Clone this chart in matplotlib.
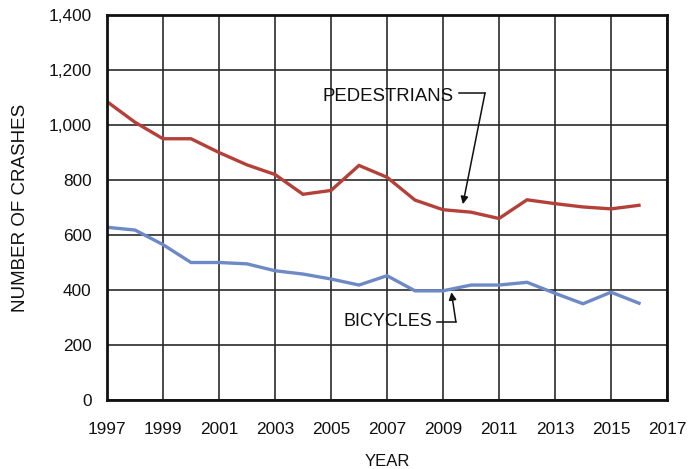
import matplotlib
matplotlib.use("Agg")
import matplotlib.pyplot as plt
from matplotlib.ticker import FuncFormatter

plt.rcParams['font.family'] = ['Liberation Sans', 'DejaVu Sans']

years = list(range(1997, 2017))
pedestrians = [1085, 1010, 950, 950, 900, 855, 820, 748, 762, 853, 810, 727,
               692, 683, 660, 728, 714, 702, 695, 708]
bicycles = [628, 618, 565, 500, 500, 495, 470, 458, 440, 418, 452, 397,
            397, 418, 418, 428, 388, 350, 392, 352]

x_ticks = list(range(1997, 2018, 2))
y_ticks = list(range(0, 1401, 200))

fig = plt.figure(figsize=(6.98, 4.69), dpi=100)
ax = fig.add_axes([107 / 698, 69 / 469, 560 / 698, 385 / 469])

ax.plot(years, pedestrians, color='#b5403a', lw=2.4, solid_joinstyle='miter')
ax.plot(years, bicycles, color='#6d89c6', lw=2.4, solid_joinstyle='miter')

ax.set_xlim(1997, 2017)
ax.set_ylim(0, 1400)
ax.set_xticks(x_ticks)
ax.set_yticks(y_ticks)
ax.yaxis.set_major_formatter(FuncFormatter(lambda v, p: f"{int(v):,}"))
ax.grid(True, color='#2a2a2a', lw=1.2)
ax.set_axisbelow(True)
ax.tick_params(length=0, labelsize=12.4, colors='#111111')
ax.tick_params(axis='x', pad=16)
ax.tick_params(axis='y', pad=11)
for s in ax.spines.values():
    s.set_linewidth(2)
    s.set_color('#111111')

ax.set_xlabel('YEAR', fontsize=12, color='#111111', labelpad=12)
ax.set_ylabel('NUMBER OF CRASHES', fontsize=13.5, color='#111111', labelpad=14)

# callout labels with leader arrows
arrow = dict(arrowstyle='-|>', color='#111111', lw=1.1, mutation_scale=11,
             shrinkA=0, shrinkB=0)

ax.text(2004.71, 1105, 'PEDESTRIANS', fontsize=13.4, va='center', ha='left', color='#111111')
ax.plot([2009.57, 2010.5], [1116, 1116], color='#111111', lw=1.1)
ax.annotate('', xy=(2009.71, 712), xytext=(2010.5, 1116), arrowprops=arrow)

ax.text(2005.43, 284, 'BICYCLES', fontsize=13, va='center', ha='left', color='#111111')
ax.plot([2008.79, 2009.46], [284, 284], color='#111111', lw=1.1)
ax.annotate('', xy=(2009.3, 392), xytext=(2009.46, 284), arrowprops=arrow)

fig.savefig('out.png', dpi=100)
